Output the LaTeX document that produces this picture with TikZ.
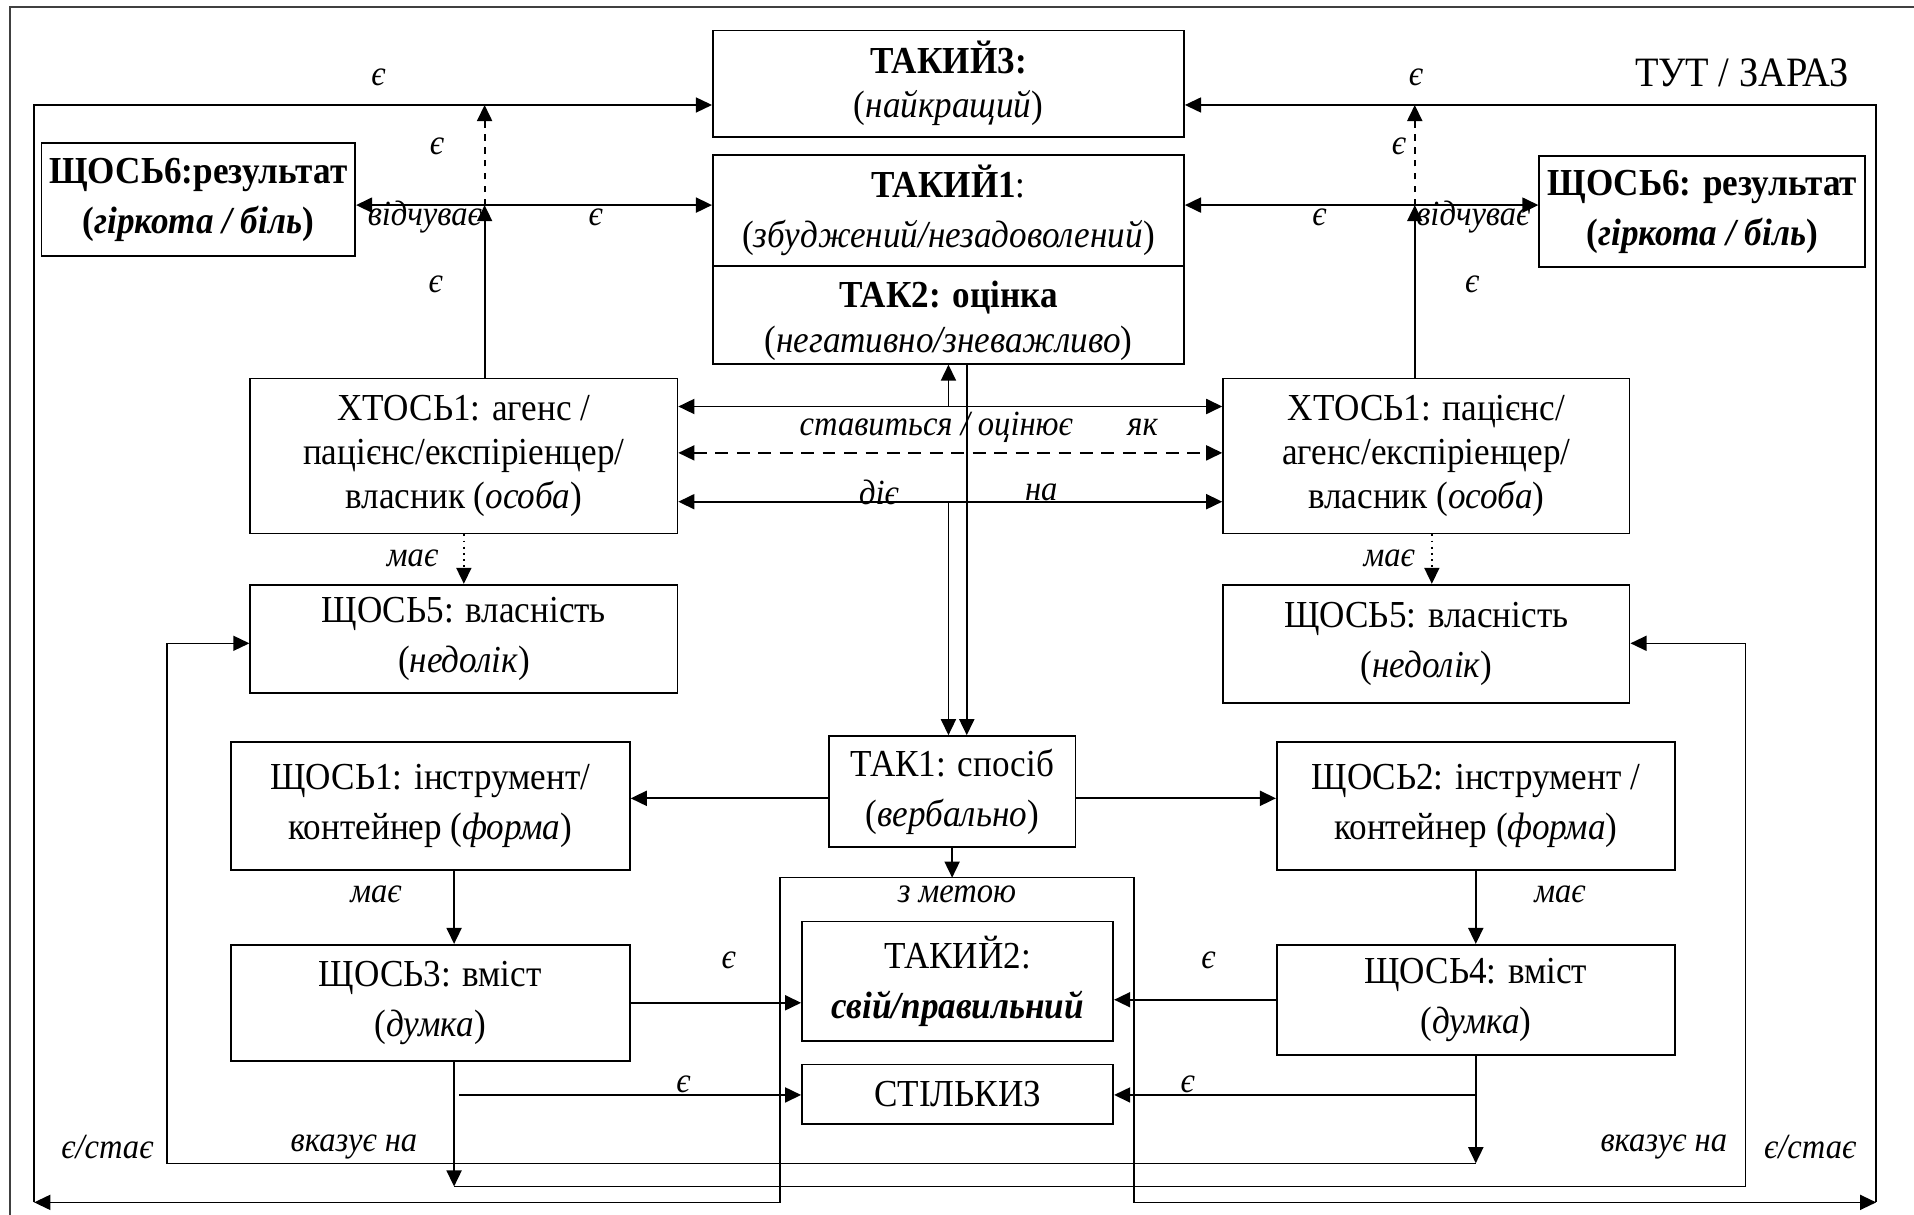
\documentclass[tikz,border=0pt]{standalone}
\usepackage{fontspec}
\setmainfont[FakeStretch=0.92]{Liberation Serif}
\usetikzlibrary{arrows.meta}

% box with given corners: [options]{name}{x1}{y1}{x2}{y2}{text}
\newcommand\rbox[7][]{%
  \node[box,#1,minimum width={(#5-#3)*0.02cm},minimum height={(#6-#4)*0.02cm}]
    (#2) at ({(#3+#5)/2},{(#4+#6)/2}) {#7};}

\begin{document}
\begin{tikzpicture}[x=0.02cm,y=-0.02cm,
  box/.style={draw, line width=0.8pt, inner sep=1pt, align=center,
    font=\fontsize{17.8}{23.3}\selectfont},
  lbl/.style={font=\fontsize{16.5}{18}\selectfont\itshape, inner sep=0pt},
  tip/.tip={Triangle[length=7.5pt,width=7pt]},
  conn/.style={line width=0.9pt, -tip},
  both/.style={line width=0.9pt, tip-tip},
  thin line/.style={line width=0.7pt},
]
\useasboundingbox (0,0) rectangle (1568,995);

% page frame
\draw[line width=0.8pt, black!75] (8,995) -- (8,6) -- (1568,6);

\node[font=\fontsize{19.5}{22}\selectfont] (here) at (1427,60) {ТУТ / ЗАРАЗ};

% boxes
\rbox[font=\fontsize{17.8}{20.5}\selectfont]{t3}{584}{25}{970}{112}{\textbf{ТАКИЙ3:}\\(\textit{найкращий})}
\rbox{t1}{584}{127}{970}{218}{\textbf{ТАКИЙ1}:\\(\textit{збуджений/незадоволений})}
\rbox[font=\fontsize{17.8}{21}\selectfont]{tak2}{584}{218}{970}{298}{\rule{0pt}{2.2ex}\textbf{ТАК2: оцінка}\\(\textit{негативно/зневажливо})}
\rbox{r6l}{34}{117}{291}{210}{\textbf{ЩОСЬ6:результат}\\\textbf{(\textit{гіркота / біль})}}
\rbox{r6r}{1261}{128}{1528}{219}{\textbf{ЩОСЬ6: результат}\\\textbf{(\textit{гіркота / біль})}}
\rbox[font=\fontsize{17.8}{20.5}\selectfont]{xl}{205}{310}{555}{437}{ХТОСЬ1: агенс /\\пацієнс/експіріенцер/\\власник (\textit{особа})}
\rbox[font=\fontsize{17.8}{20.5}\selectfont]{xr}{1002}{310}{1335}{437}{ХТОСЬ1: пацієнс/\\агенс/експіріенцер/\\власник (\textit{особа})}
\rbox{p5l}{205}{479}{555}{568}{ЩОСЬ5: власність\\(\textit{недолік})}
\rbox{p5r}{1002}{479}{1335}{576}{ЩОСЬ5: власність\\(\textit{недолік})}
\rbox{s1}{189}{608}{516}{713}{ЩОСЬ1: інструмент/\\контейнер (\textit{форма})}
\rbox{tak1}{679}{603}{881}{694}{ТАК1: спосіб\\(\textit{вербально})}
\rbox{s2}{1046}{608}{1372}{713}{ЩОСЬ2: інструмент /\\контейнер (\textit{форма})}
\rbox{t2}{657}{755}{912}{853}{ТАКИЙ2:\\\textbf{\textit{свій/правильний}}}
\rbox{st3}{657}{872}{912}{921}{СТІЛЬКИЗ}
\rbox{s3}{189}{774}{516}{869}{ЩОСЬ3: вміст\\(\textit{думка})}
\rbox{s4}{1046}{774}{1372}{864}{ЩОСЬ4: вміст\\(\textit{думка})}

% purpose frame, opening into the two bottom arrows
\coordinate (cbl) at (28,985);
\coordinate (cbr) at (1537,985);
\coordinate (ctop) at (778,719);
\draw[both, thin line] (cbl) -- (639,985) -- (639,719) -- (929,719) -- (929,985) -- (cbr);

% outer loops to ТАКИЙ3
\coordinate (tl) at (28,86);
\coordinate (tr) at (1537,86);
\draw[conn, thin line] (cbl) -- (tl) -- (tl -| t3.west);
\draw[conn, thin line] (cbr) -- (tr) -- (tr -| t3.east);

% verticals from the ХТОСЬ1 boxes
\coordinate (jl) at (397,168);
\coordinate (jr) at (1159,168);
\draw[conn] (jl |- xl.north) -- (jl);
\draw[conn, dashed] (jl) -- (jl |- tl);
\draw[both] (jl -| r6l.east) -- (jl -| t1.west);
\draw[conn] (jr |- xr.north) -- (jr);
\draw[conn, dashed] (jr) -- (jr |- tr);
\draw[both] (jr -| t1.east) -- (jr -| r6r.west);

% links between the two ХТОСЬ1 boxes
\coordinate (ha) at (777,333);
\coordinate (hb) at (777,371);
\coordinate (hc) at (777,411);
\draw[both] (ha -| xl.east) -- (ha -| xr.west);
\draw[both, dash pattern=on 6pt off 4pt] (hb -| xl.east) -- (hb -| xr.west);
\draw[both] (hc -| xl.east) -- (hc -| xr.west);
\draw[conn] (ha) -- (ha |- tak2.south);
\draw[conn] (hc) -- (hc |- tak1.north);
\coordinate (vr) at (792,300);
\draw[conn] (vr |- tak2.south) -- (vr |- tak1.north);

% має (dotted)
\coordinate (dl) at (380,450);
\coordinate (dr) at (1173,450);
\draw[conn, dotted] (dl |- xl.south) -- (dl |- p5l.north);
\draw[conn, dotted] (dr |- xr.south) -- (dr |- p5r.north);

% ТАК1 outputs
\coordinate (hm) at (780,654);
\draw[conn] (hm -| tak1.west) -- (hm -| s1.east);
\draw[conn] (hm -| tak1.east) -- (hm -| s2.west);
\draw[conn] (tak1.south) -- (tak1.south |- ctop);

% має (solid)
\coordinate (ml) at (372,740);
\coordinate (mr) at (1209,740);
\draw[conn] (ml |- s1.south) -- (ml |- s3.north);
\draw[conn] (mr |- s2.south) -- (mr |- s4.north);

% є into ТАКИЙ2 and СТІЛЬКИЗ
\draw[conn] (s3.east) -- (s3.east -| t2.west);
\draw[conn] (s4.west) -- (s4.west -| t2.east);
\coordinate (sl) at (376,897);
\coordinate (sr) at (1209,897);
\draw[conn] (sl) -- (sl -| st3.west);
\draw[conn] (sr) -- (sr -| st3.east);

% вказує на: loops back to ЩОСЬ5
\coordinate (bl) at (1209,953);
\coordinate (pl) at (137,527);
\draw[conn] (bl |- s4.south) -- (bl);
\draw[conn, thin line] (bl) -- (bl -| pl) -- (pl) -- (pl -| p5l.west);
\coordinate (br) at (372,972);
\coordinate (pr) at (1430,527);
\draw[conn] (br |- s3.south) -- (br);
\draw[conn, thin line] (br) -- (br -| pr) -- (pr) -- (pr -| p5r.east);

% labels
\node[lbl] (e1) at (310,63) {є};
\node[lbl] (e2) at (1160,63) {є};
\node[lbl] (e3) at (358,120) {є};
\node[lbl] (e4) at (1146,120) {є};
\node[lbl] (f1) at (348,178) {відчуває};
\node[lbl] (f2) at (1207,178) {відчуває};
\node[lbl] (e5) at (488,178) {є};
\node[lbl] (e6) at (1081,178) {є};
\node[lbl] (e7) at (357,233) {є};
\node[lbl] (e8) at (1206,233) {є};
\node[lbl] (ev) at (767,350) {ставиться / оцінює};
\node[lbl] (ak) at (936,350) {як};
\node[lbl] (di) at (720,403) {діє};
\node[lbl] (na) at (853,403) {на};
\node[lbl] (m1) at (338,457) {має};
\node[lbl] (m2) at (1138,457) {має};
\node[lbl] (m3) at (308,733) {має};
\node[lbl] (m4) at (1278,733) {має};
\node[lbl] (zm) at (784,733) {з метою};
\node[lbl] (e9) at (597,787) {є};
\node[lbl] (e10) at (990,787) {є};
\node[lbl] (e11) at (560,888) {є};
\node[lbl] (e12) at (973,888) {є};
\node[lbl] (b1) at (88,940) {є/стає};
\node[lbl] (b2) at (1483,940) {є/стає};
\node[lbl] (v1) at (290,940) {вказує на};
\node[lbl] (v2) at (1363,940) {вказує на};
\end{tikzpicture}
\end{document}
